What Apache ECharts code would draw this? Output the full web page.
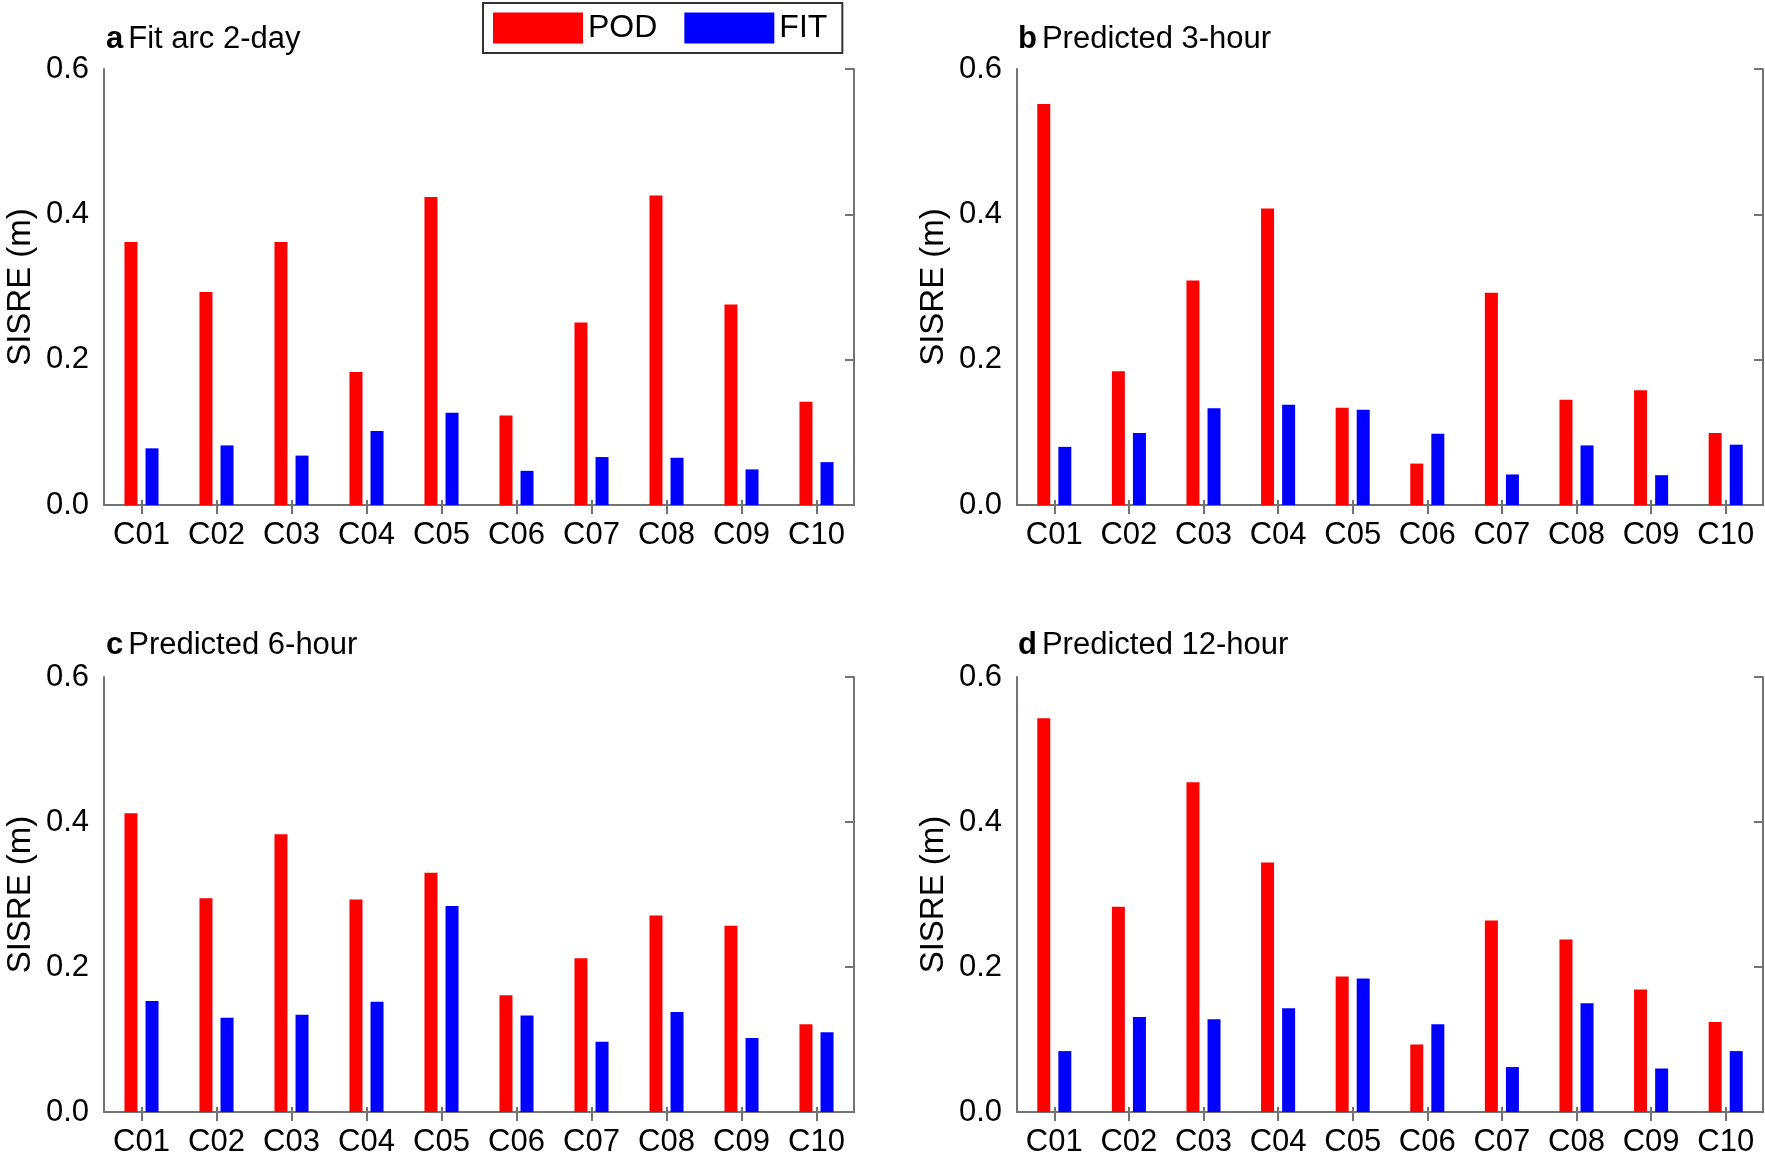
<!DOCTYPE html>
<html>
<head>
<meta charset="utf-8">
<script src="https://cdn.jsdelivr.net/npm/echarts@6/dist/echarts.min.js"></script>
<style>html,body{margin:0;padding:0;background:#fff;}#chart{width:1765px;height:1166px;}</style>
</head>
<body>
<div id="chart"></div>
<script>
const categories = ['C01','C02','C03','C04','C05','C06','C07','C08','C09','C10'];
const yTicks = [0, 0.2, 0.4, 0.6];
const seriesNames = ['POD', 'FIT'];
const panelLetters = ['a', 'b', 'c', 'd'];
const panelTitles = ['Fit arc 2-day', 'Predicted 3-hour', 'Predicted 6-hour', 'Predicted 12-hour'];
const aPOD = [0.362, 0.293, 0.362, 0.183, 0.424, 0.123, 0.251, 0.426, 0.276, 0.142];
const aFIT = [0.078, 0.082, 0.068, 0.102, 0.127, 0.047, 0.066, 0.065, 0.049, 0.059];
const bPOD = [0.552, 0.184, 0.309, 0.408, 0.134, 0.057, 0.292, 0.145, 0.158, 0.099];
const bFIT = [0.080, 0.099, 0.133, 0.138, 0.131, 0.098, 0.042, 0.082, 0.041, 0.083];
const cPOD = [0.412, 0.295, 0.383, 0.293, 0.330, 0.161, 0.212, 0.271, 0.257, 0.121];
const cFIT = [0.153, 0.130, 0.134, 0.152, 0.284, 0.133, 0.097, 0.138, 0.102, 0.110];
const dPOD = [0.543, 0.283, 0.455, 0.344, 0.187, 0.093, 0.264, 0.238, 0.169, 0.124];
const dFIT = [0.084, 0.131, 0.128, 0.143, 0.184, 0.121, 0.062, 0.150, 0.060, 0.084];

const panelData = [[aPOD, aFIT], [bPOD, bFIT], [cPOD, cFIT], [dPOD, dFIT]];
const colors = ['#ff0000', '#0000ff'];
const FONT = '"Liberation Sans", Arial, Helvetica, sans-serif';
const AXIS_COLOR = '#737373';

const grids = [
  {left: 104, top: 69, width: 750, height: 436},
  {left: 1017, top: 69, width: 746, height: 436},
  {left: 104, top: 677, width: 750, height: 435},
  {left: 1017, top: 677, width: 746, height: 435}
];
const titlePos = [
  {left: 106, top: 24},
  {left: 1018, top: 24},
  {left: 106, top: 630},
  {left: 1018, top: 630}
];

const option = {
  animation: false,
  backgroundColor: '#ffffff',
  textStyle: {fontFamily: FONT},
  title: panelLetters.map((l, i) => ({
    text: '{b|' + l + '} {n|' + panelTitles[i] + '}',
    left: titlePos[i].left, top: titlePos[i].top, padding: 0,
    textStyle: {
      rich: {
        b: {fontFamily: FONT, fontWeight: 'bold', fontSize: 31, color: '#000'},
        n: {fontFamily: FONT, fontWeight: 'normal', fontSize: 31, color: '#000'}
      }
    }
  })),
  legend: {
    data: seriesNames,
    left: 483, top: 3,
    padding: [9, 15, 9, 10],
    borderColor: '#333', borderWidth: 2,
    itemWidth: 90, itemHeight: 31, itemGap: 27,
    icon: 'rect',
    textStyle: {fontFamily: FONT, fontSize: 32, color: '#000'}
  },
  grid: grids.map(g => Object.assign({containLabel: false}, g)),
  xAxis: [],
  yAxis: [],
  series: []
};

grids.forEach((g, i) => {
  option.xAxis.push({
    type: 'category', gridIndex: i, data: categories, position: 'bottom',
    axisLine: {show: true, lineStyle: {color: AXIS_COLOR, width: 2}},
    axisTick: {show: true, inside: true, length: 5, alignWithLabel: true, lineStyle: {color: AXIS_COLOR, width: 2}},
    axisLabel: {fontFamily: FONT, fontSize: 31, color: '#000', margin: 15, interval: 0},
    splitLine: {show: false}
  });
  option.xAxis.push({
    type: 'category', gridIndex: i, data: categories, position: 'top',
    axisLine: {show: true, lineStyle: {color: AXIS_COLOR, width: 2}},
    axisTick: {show: true, inside: true, length: 9, alignWithLabel: true, lineStyle: {color: AXIS_COLOR, width: 2}},
    axisLabel: {show: false},
    splitLine: {show: false}
  });
  option.yAxis.push({
    type: 'value', gridIndex: i, position: 'left',
    min: yTicks[0], max: yTicks[yTicks.length - 1], interval: 0.2,
    name: 'SISRE (m)', nameLocation: 'middle', nameGap: 67,
    nameTextStyle: {fontFamily: FONT, fontSize: 33, color: '#000'},
    axisLine: {show: true, lineStyle: {color: AXIS_COLOR, width: 2}},
    axisTick: {show: false},
    axisLabel: {fontFamily: FONT, fontSize: 31, color: '#000', margin: 15, padding: [10, 0, 0, 0],
      formatter: v => v.toFixed(1)},
    splitLine: {show: false}
  });
  option.yAxis.push({
    type: 'value', gridIndex: i, position: 'right',
    min: yTicks[0], max: yTicks[yTicks.length - 1], interval: 0.2,
    axisLine: {show: true, lineStyle: {color: AXIS_COLOR, width: 2}},
    axisTick: {show: true, inside: true, length: 9, lineStyle: {color: AXIS_COLOR, width: 2}},
    axisLabel: {show: false},
    splitLine: {show: false}
  });
  panelData[i].forEach((vals, s) => {
    option.series.push({
      name: seriesNames[s], type: 'bar',
      xAxisIndex: i * 2, yAxisIndex: i * 2,
      data: vals, barWidth: 13, barGap: '62%',
      itemStyle: {color: colors[s]},
      emphasis: {disabled: true}
    });
  });
});

const chart = echarts.init(document.getElementById('chart'), null, {renderer: 'canvas'});
chart.setOption(option);
</script>
</body>
</html>
